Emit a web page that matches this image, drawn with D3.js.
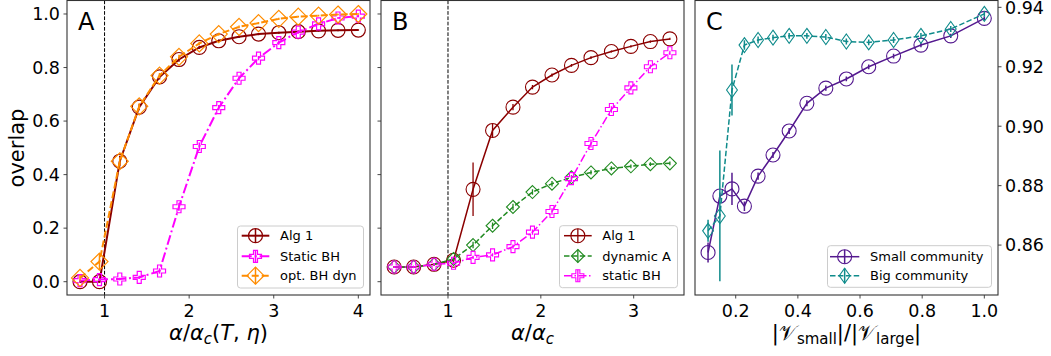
<!DOCTYPE html>
<html>
<head>
<meta charset="utf-8">
<script src="https://cdn.jsdelivr.net/npm/d3@7"></script>
<style>
  body { margin: 0; background: #fff; }
  svg text { font-family: "DejaVu Sans", sans-serif; fill: #000; }
</style>
</head>
<body>
<svg id="chart" width="1051" height="356"></svg>
<script>
// ---- panel A data ----
const xA = [0.71, 0.94, 1.18, 1.41, 1.65, 1.88, 2.12, 2.35, 2.59, 2.82, 3.06, 3.29, 3.53, 3.76, 4.0];
const alg1A = [0.0, 0.0, 0.45, 0.652, 0.765, 0.83, 0.875, 0.9, 0.915, 0.925, 0.93, 0.934, 0.937, 0.939, 0.94];
const alg1AErr = [0.004, 0.004, 0.02, 0.012, 0.01, 0.008, 0.006, 0.005, 0.005, 0.004, 0.004, 0.004, 0.003, 0.003, 0.003];
const staticA = [0.004, 0.008, 0.01, 0.016, 0.04, 0.28, 0.505, 0.65, 0.76, 0.835, 0.893, 0.932, 0.963, 0.985, 0.992];
const staticAErr = [0.004, 0.004, 0.005, 0.006, 0.01, 0.015, 0.015, 0.01, 0.01, 0.008, 0.008, 0.006, 0.005, 0.004, 0.004];
const optA = [0.014, 0.075, 0.45, 0.655, 0.77, 0.84, 0.89, 0.925, 0.952, 0.966, 0.982, 0.99, 0.994, 0.998, 1.0];
const optAErr = [0.01, 0.03, 0.015, 0.012, 0.01, 0.008, 0.006, 0.005, 0.005, 0.004, 0.004, 0.003, 0.003, 0.003, 0.003];

// ---- panel B data ----
const xB = [0.42, 0.63, 0.85, 1.06, 1.27, 1.48, 1.70, 1.91, 2.12, 2.33, 2.54, 2.76, 2.97, 3.18, 3.39];
const alg1B = [0.055, 0.055, 0.065, 0.08, 0.345, 0.565, 0.652, 0.727, 0.772, 0.808, 0.837, 0.86, 0.879, 0.897, 0.907];
const alg1BErr = [0.004, 0.004, 0.005, 0.01, 0.1, 0.025, 0.012, 0.008, 0.006, 0.005, 0.005, 0.004, 0.004, 0.004, 0.004];
const dynB = [0.055, 0.055, 0.065, 0.085, 0.137, 0.209, 0.279, 0.335, 0.366, 0.39, 0.408, 0.423, 0.431, 0.439, 0.442];
const dynBErr = [0.004, 0.004, 0.005, 0.008, 0.012, 0.012, 0.012, 0.01, 0.01, 0.008, 0.008, 0.008, 0.007, 0.007, 0.007];
const staticB = [0.055, 0.055, 0.065, 0.069, 0.091, 0.1, 0.131, 0.185, 0.262, 0.385, 0.516, 0.643, 0.724, 0.803, 0.855];
const staticBErr = [0.004, 0.004, 0.005, 0.005, 0.006, 0.006, 0.008, 0.01, 0.012, 0.012, 0.015, 0.012, 0.01, 0.008, 0.008];

// ---- panel C data ----
const xC = [0.111, 0.149, 0.188, 0.228, 0.272, 0.320, 0.372, 0.429, 0.490, 0.556, 0.628, 0.708, 0.796, 0.892, 1.0];
const smallC = [0.8575, 0.8765, 0.8789, 0.8731, 0.8832, 0.8903, 0.8984, 0.9077, 0.9128, 0.9159, 0.920, 0.9236, 0.9273, 0.9304, 0.9363];
const smallCErr = [0.0034, 0.0012, 0.0054, 0.0016, 0.0012, 0.001, 0.001, 0.001, 0.0009, 0.0008, 0.0008, 0.0008, 0.0007, 0.0007, 0.0006];
const bigC = [0.8648, 0.8698, 0.9122, 0.9273, 0.929, 0.9298, 0.9304, 0.9304, 0.930, 0.9285, 0.9282, 0.929, 0.9304, 0.9327, 0.9378];
const bigCErr = [0.0037, 0.022, 0.0086, 0.0016, 0.0012, 0.001, 0.001, 0.001, 0.001, 0.001, 0.001, 0.001, 0.001, 0.001, 0.001];

const ticksAB = [0, 0.2, 0.4, 0.6, 0.8, 1.0];
const ticksXA = [1, 2, 3, 4];
const ticksXB = [1, 2, 3];
const ticksXC = [0.2, 0.4, 0.6, 0.8, 1.0];
const ticksYC = [0.86, 0.88, 0.90, 0.92, 0.94];

const svg = d3.select('#chart');
const TOP = 0.5, BOTTOM = 295;
const tickFont = 17.5;
const frame = '#333';

function markerPath(type, s) {
  if (type === 'D') return `M0,${-s}L${s},0L0,${s}L${-s},0Z`;
  if (type === 'd') return `M0,${-s}L${s * 0.72},0L0,${s}L${-s * 0.72},0Z`;
  if (type === 'P') {
    const a = s, b = s / 3;
    return `M${-b},${-a}H${b}V${-b}H${a}V${b}H${b}V${a}H${-b}V${b}H${-a}V${-b}H${-b}Z`;
  }
  return null;
}

function drawMarker(g, type, size, color, sw) {
  if (type === 'o') {
    g.append('circle').attr('r', size).attr('fill', 'none').attr('stroke', color).attr('stroke-width', sw);
  } else {
    g.append('path').attr('d', markerPath(type, size)).attr('fill', 'none').attr('stroke', color).attr('stroke-width', sw);
  }
}

function panel(cfg) {
  const x = d3.scaleLinear().domain(cfg.xDomain).range([cfg.left, cfg.right]);
  const y = d3.scaleLinear().domain(cfg.yDomain).range([BOTTOM, TOP]);
  const g = svg.append('g');

  // clip for data
  const clipId = 'clip' + cfg.name;
  svg.append('clipPath').attr('id', clipId).append('rect')
    .attr('x', cfg.left).attr('y', TOP).attr('width', cfg.right - cfg.left).attr('height', BOTTOM - TOP);
  const plot = g.append('g').attr('clip-path', `url(#${clipId})`);

  if (cfg.vline != null) {
    plot.append('line').attr('x1', x(cfg.vline)).attr('x2', x(cfg.vline))
      .attr('y1', TOP).attr('y2', BOTTOM)
      .attr('stroke', '#000').attr('stroke-width', 1).attr('stroke-dasharray', '3.7,1.6');
  }

  cfg.series.forEach(s => {
    const pts = s.x.map((xv, i) => ({ x: xv, y: s.y[i], e: s.err[i] }));
    plot.append('path')
      .datum(pts)
      .attr('fill', 'none')
      .attr('stroke', s.color)
      .attr('stroke-width', s.lw)
      .attr('stroke-dasharray', s.dash)
      .attr('d', d3.line().x(d => x(d.x)).y(d => y(d.y)));
    // error bars
    plot.append('g').selectAll('line').data(pts).join('line')
      .attr('x1', d => x(d.x)).attr('x2', d => x(d.x))
      .attr('y1', d => y(d.y - d.e)).attr('y2', d => y(d.y + d.e))
      .attr('stroke', s.color).attr('stroke-width', s.elw);
    const mg = plot.append('g').selectAll('g').data(pts).join('g')
      .attr('transform', d => `translate(${x(d.x)},${y(d.y)})`);
    mg.each(function () { drawMarker(d3.select(this), s.marker, s.ms, s.color, s.mew); });
  });

  // frame
  g.append('rect').attr('x', cfg.left).attr('y', TOP)
    .attr('width', cfg.right - cfg.left).attr('height', BOTTOM - TOP)
    .attr('fill', 'none').attr('stroke', frame).attr('stroke-width', 1.1);

  // x ticks
  const xt = g.append('g');
  cfg.xTicks.forEach(t => {
    xt.append('line').attr('x1', x(t)).attr('x2', x(t)).attr('y1', BOTTOM).attr('y2', BOTTOM + 3.5)
      .attr('stroke', frame).attr('stroke-width', 0.9);
    xt.append('text').attr('x', x(t)).attr('y', 316.5).attr('text-anchor', 'middle')
      .attr('font-size', tickFont).text(cfg.xFmt(t));
  });

  // y ticks
  const yt = g.append('g');
  cfg.yTicks.forEach(t => {
    const side = cfg.ySide;
    const x0 = side === 'right' ? cfg.right : cfg.left;
    const dir = side === 'right' ? 1 : -1;
    yt.append('line').attr('x1', x0).attr('x2', x0 + dir * 3.5).attr('y1', y(t)).attr('y2', y(t))
      .attr('stroke', frame).attr('stroke-width', 0.9);
    if (cfg.yLabels) {
      yt.append('text').attr('x', x0 + dir * 7).attr('y', Math.max(y(t), 7.6)).attr('dy', '0.36em')
        .attr('text-anchor', side === 'right' ? 'start' : 'end')
        .attr('font-size', tickFont).text(cfg.yFmt(t));
    }
  });

  // panel letter
  g.append('text').attr('x', cfg.left + 11).attr('y', 30).attr('font-size', 24).text(cfg.name);

  // legend
  const L = cfg.legend;
  const lg = g.append('g');
  lg.append('rect').attr('x', L.x).attr('y', L.y).attr('width', L.w).attr('height', L.h)
    .attr('rx', 3).attr('fill', '#fff').attr('fill-opacity', 0.8)
    .attr('stroke', '#ccc').attr('stroke-width', 1);
  cfg.series.forEach((s, i) => {
    const ry = L.rows[i];
    const cx = (L.hx0 + L.hx1) / 2;
    lg.append('line').attr('x1', L.hx0).attr('x2', L.hx1).attr('y1', ry).attr('y2', ry)
      .attr('stroke', s.color).attr('stroke-width', s.lw).attr('stroke-dasharray', s.dash);
    lg.append('line').attr('x1', cx).attr('x2', cx).attr('y1', ry - s.ms).attr('y2', ry + s.ms)
      .attr('stroke', s.color).attr('stroke-width', s.elw);
    const mg = lg.append('g').attr('transform', `translate(${cx},${ry})`);
    drawMarker(mg, s.marker, s.ms, s.color, s.mew);
    lg.append('text').attr('x', L.tx).attr('y', ry).attr('dy', '0.36em')
      .attr('font-size', 13).text(s.label);
  });
  return g;
}

const fmt1 = d3.format('.1f');
const fmt0 = d3.format('d');
const fmt2 = d3.format('.2f');

panel({
  name: 'A', left: 67, right: 370,
  xDomain: [0.556, 4.138], yDomain: [-0.0497, 1.0504],
  xTicks: ticksXA, xFmt: fmt0, yTicks: ticksAB, yFmt: fmt1, ySide: 'left', yLabels: true,
  vline: 1,
  series: [
    { x: xA, y: alg1A, err: alg1AErr, label: 'Alg 1', color: '#8b0000', lw: 2, dash: null, marker: 'o', ms: 7, mew: 1.2, elw: 1.5 },
    { x: xA, y: staticA, err: staticAErr, label: 'Static BH', color: '#ff00ff', lw: 2, dash: '10,3,2,3', marker: 'P', ms: 6, mew: 1.2, elw: 1.5 },
    { x: xA, y: optA, err: optAErr, label: 'opt. BH dyn', color: '#ff8c00', lw: 2, dash: '7,3', marker: 'D', ms: 8.5, mew: 1.2, elw: 1.5 }
  ],
  legend: { x: 237.5, y: 226, w: 126, h: 62, rows: [235.7, 256.3, 275.7], hx0: 241.7, hx1: 269.3, tx: 280 }
});

panel({
  name: 'B', left: 381, right: 684,
  xDomain: [0.2784, 3.542], yDomain: [-0.0497, 1.0504],
  xTicks: ticksXB, xFmt: fmt0, yTicks: ticksAB, yFmt: fmt1, ySide: 'left', yLabels: false,
  vline: 1,
  series: [
    { x: xB, y: alg1B, err: alg1BErr, label: 'Alg 1', color: '#8b0000', lw: 1.5, dash: null, marker: 'o', ms: 7, mew: 1.1, elw: 1.3 },
    { x: xB, y: dynB, err: dynBErr, label: 'dynamic A', color: '#228b22', lw: 1.5, dash: '5.5,2.4', marker: 'D', ms: 6.5, mew: 1.1, elw: 1.3 },
    { x: xB, y: staticB, err: staticBErr, label: 'static BH', color: '#ff00ff', lw: 1.5, dash: '8,2.5,1.5,2.5', marker: 'P', ms: 6, mew: 1.1, elw: 1.3 }
  ],
  legend: { x: 559.5, y: 225.7, w: 118, h: 62, rows: [235.7, 256, 275.7], hx0: 564, hx1: 591.7, tx: 602.3 }
});

panel({
  name: 'C', left: 695, right: 998,
  xDomain: [0.069, 1.044], yDomain: [0.8432, 0.9423],
  xTicks: ticksXC, xFmt: fmt1, yTicks: ticksYC, yFmt: fmt2, ySide: 'right', yLabels: true,
  vline: null,
  series: [
    { x: xC, y: smallC, err: smallCErr, label: 'Small community', color: '#54198f', lw: 1.5, dash: null, marker: 'o', ms: 7, mew: 1.1, elw: 1.5 },
    { x: xC, y: bigC, err: bigCErr, label: 'Big community', color: '#0f8b8b', lw: 1.5, dash: '5.5,2.4', marker: 'd', ms: 7.5, mew: 1.1, elw: 1.5 }
  ],
  legend: { x: 827.5, y: 245.7, w: 164, h: 41.6, rows: [256.7, 275.7], hx0: 830, hx1: 859.3, tx: 870 }
});

// axis labels
svg.append('text').attr('transform', 'translate(23.5,148) rotate(-90)')
  .attr('text-anchor', 'middle').attr('font-size', 21).text('overlap');

const lA = svg.append('text').attr('x', 218.5).attr('y', 340).attr('text-anchor', 'middle').attr('font-size', 21);
lA.append('tspan').attr('font-style', 'italic').text('α');
lA.append('tspan').text('/');
lA.append('tspan').attr('font-style', 'italic').text('α');
lA.append('tspan').attr('font-style', 'italic').attr('font-size', 15).attr('dy', 4).text('c');
lA.append('tspan').attr('dy', -4).text('(');
lA.append('tspan').attr('font-style', 'italic').text('T');
lA.append('tspan').text(', ');
lA.append('tspan').attr('font-style', 'italic').text('η');
lA.append('tspan').text(')');

const lB = svg.append('text').attr('x', 532.5).attr('y', 340).attr('text-anchor', 'middle').attr('font-size', 21);
lB.append('tspan').attr('font-style', 'italic').text('α');
lB.append('tspan').text('/');
lB.append('tspan').attr('font-style', 'italic').text('α');
lB.append('tspan').attr('font-style', 'italic').attr('font-size', 15).attr('dy', 4).text('c');

const lC = svg.append('text').attr('x', 846.5).attr('y', 340).attr('text-anchor', 'middle').attr('font-size', 21);
lC.append('tspan').text('|');
lC.append('tspan').text('𝒱');
lC.append('tspan').attr('font-size', 15).attr('dy', 4).text('small');
lC.append('tspan').attr('dy', -4).text('|/|');
lC.append('tspan').text('𝒱');
lC.append('tspan').attr('font-size', 15).attr('dy', 4).text('large');
lC.append('tspan').attr('dy', -4).text('|');
</script>
</body>
</html>
